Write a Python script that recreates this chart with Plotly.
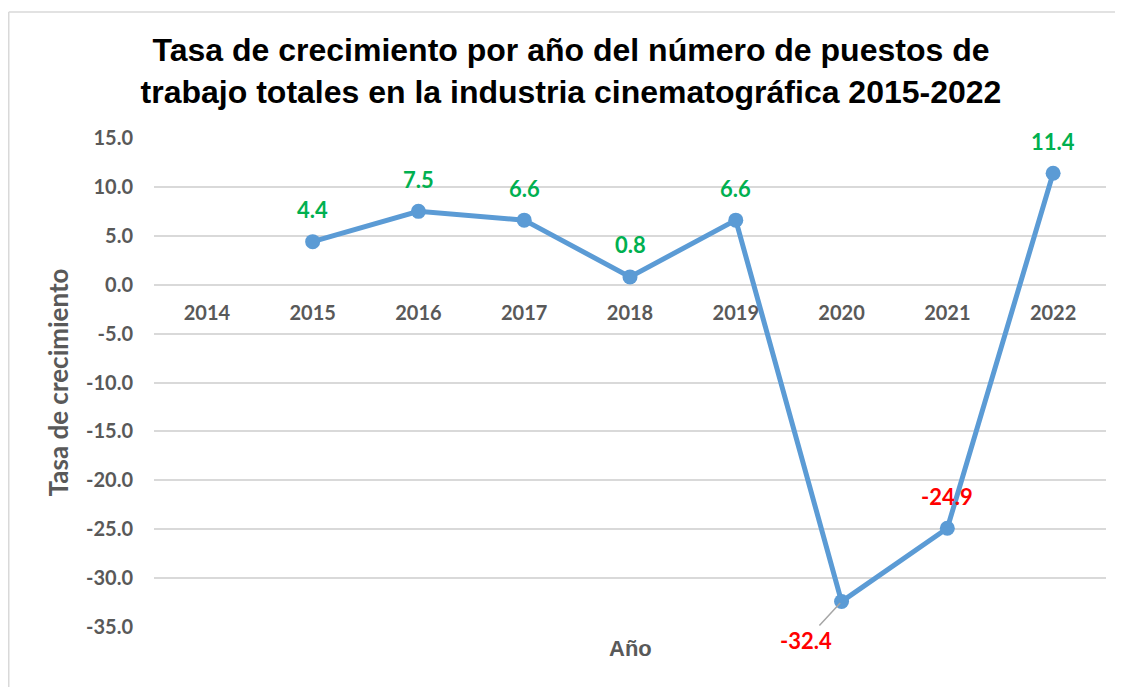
import plotly.graph_objects as go

years = ["2014", "2015", "2016", "2017", "2018", "2019", "2020", "2021", "2022"]
growth = [None, 4.4, 7.5, 6.6, 0.8, 6.6, -32.4, -24.9, 11.4]
y_ticks = [15, 10, 5, 0, -5, -10, -15, -20, -25, -30, -35]

title_text = ("Tasa de crecimiento por año del número de puestos de<br>"
              "trabajo totales en la industria cinematográfica 2015-2022")
y_title = "Tasa de crecimiento"
x_title = "Año"

LINE = "#5B9BD5"
GRID = "#D9D9D9"
TICK = "#595959"
POS = "#00B050"
NEG = "#FF0000"
FONT = "Lato, Carlito, Calibri, sans-serif"
ARIAL = "Liberation Sans, Arial, sans-serif"

W, H = 1115, 679
ML, MR, MT, MB = 146, 17, 130, 60
PW, PH = W - ML - MR, H - MT - MB

fig = go.Figure()
fig.add_trace(go.Scatter(
    x=years, y=growth, mode="lines+markers",
    line=dict(color=LINE, width=5),
    marker=dict(color=LINE, size=15),
    connectgaps=False, hoverinfo="x+y", showlegend=False,
))

annotations = []
for i, (yr, v) in enumerate(zip(years, growth)):
    if v is None:
        continue
    col = POS if v >= 0 else NEG
    if yr == "2020":
        annotations.append(dict(
            x=i, y=v, xref="x", yref="y", text=f"{v:.1f}",
            showarrow=True, arrowhead=0, arrowwidth=1.5, arrowcolor="#A6A6A6",
            ax=-36, ay=39, standoff=2,
            font=dict(family=FONT, size=22, color=col, weight="bold"),
        ))
    else:
        annotations.append(dict(
            x=i, y=v, xref="x", yref="y", text=f"{v:.1f}",
            showarrow=False, yshift=32,
            font=dict(family=FONT, size=22, color=col, weight="bold"),
        ))

annotations.append(dict(
    x=0.5, y=-21 / PH, xref="paper", yref="paper", text=f"<b>{x_title}</b>",
    showarrow=False, yanchor="middle",
    font=dict(family=ARIAL, size=22, color=TICK),
))

x_left = (0.75 - ML) / PW
y_top = (MT + PH - 4) / PH

fig.update_layout(
    width=W, height=H,
    margin=dict(l=ML, r=MR, t=MT, b=MB),
    paper_bgcolor="white", plot_bgcolor="white",
    title=dict(
        text=f"<b>{title_text}</b>",
        x=563 / W, xanchor="center", xref="container",
        y=1 - 53 / H, yanchor="top", yref="container",
        font=dict(family=ARIAL, size=32, color="black"),
    ),
    annotations=annotations,
    shapes=[
        dict(type="line", xref="paper", yref="paper",
             x0=x_left, x1=1.2, y0=y_top, y1=y_top,
             line=dict(color=GRID, width=1.5), layer="below"),
        dict(type="line", xref="paper", yref="paper",
             x0=x_left, x1=x_left, y0=-0.3, y1=y_top,
             line=dict(color=GRID, width=1.5), layer="below"),
    ],
)

fig.update_xaxes(
    type="category", categoryorder="array", categoryarray=years,
    range=[-0.5, 8.5], anchor="free", position=35 / 50,
    showgrid=False, showline=False, zeroline=False, ticks="",
    ticklabelstandoff=14, automargin=False,
    tickfont=dict(family=FONT, size=20, color=TICK, weight="bold"),
)
fig.update_yaxes(
    range=[-35, 15], tickvals=y_ticks, ticktext=[f"{v:.1f}" for v in y_ticks],
    showgrid=True, gridcolor=GRID, gridwidth=1.5,
    zeroline=False, showline=False, ticks="",
    ticklabelstandoff=20, automargin=False,
    tickfont=dict(family=FONT, size=20, color=TICK, weight="bold"),
    title=dict(text=y_title, standoff=9,
               font=dict(family=FONT, size=26, color=TICK, weight="bold")),
)

fig.write_html("out.html")
